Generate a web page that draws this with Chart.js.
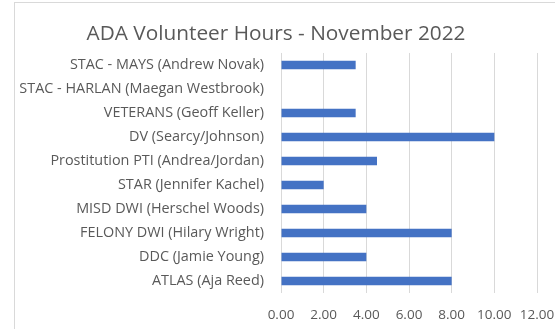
<!DOCTYPE html>
<html>
<head>
<meta charset="utf-8">
<script src="https://cdn.jsdelivr.net/npm/chart.js@4/dist/chart.umd.min.js"></script>
<style>
    html, body { margin: 0; padding: 0; background: #fff; overflow: hidden; }
    #frame {
        position: absolute;
        left: 14px;
        top: 2px;
        width: 580px;
        height: 340px;
        border: 1px solid #d9d9d9;
        background: #fff;
    }
</style>
</head>
<body>
<div id="frame"><canvas id="hoursChart" width="580" height="340"></canvas></div>

<script>
// Volunteer hours per program, listed top to bottom
const programs = [
    "STAC - MAYS (Andrew Novak)",
    "STAC - HARLAN (Maegan Westbrook)",
    "VETERANS (Geoff Keller)",
    "DV (Searcy/Johnson)",
    "Prostitution PTI (Andrea/Jordan)",
    "STAR (Jennifer Kachel)",
    "MISD DWI (Herschel Woods)",
    "FELONY DWI (Hilary Wright)",
    "DDC (Jamie Young)",
    "ATLAS (Aja Reed)"
];
const hours = [3.5, 0, 3.5, 10, 4.5, 2, 4, 8, 4, 8];
const hourTicks = [0, 2, 4, 6, 8, 10, 12];

const textColor = "#595959";
const fontFamily = "'Open Sans', sans-serif";

const ctx = document.getElementById("hoursChart").getContext("2d");

new Chart(ctx, {
    type: "bar",
    data: {
        labels: programs,
        datasets: [{
            label: "Hours",
            data: hours,
            backgroundColor: "#4472C4",
            categoryPercentage: 1,
            barPercentage: 0.35
        }]
    },
    options: {
        indexAxis: "y",
        responsive: false,
        animation: false,
        layout: { padding: { left: 0, right: 58, top: 19, bottom: 0 } },
        plugins: {
            legend: { display: false },
            tooltip: { enabled: false },
            title: {
                display: true,
                text: "ADA Volunteer Hours - November 2022",
                color: textColor,
                font: { family: fontFamily, size: 20.8, weight: "normal" },
                padding: { top: 0, bottom: 6 }
            }
        },
        scales: {
            x: {
                min: 0,
                max: 12,
                afterBuildTicks: axis => {
                    axis.ticks = hourTicks.map(v => ({ value: v }));
                },
                afterFit: axis => { axis.height = 50; },
                ticks: {
                    color: textColor,
                    font: { family: fontFamily, size: 13.5 },
                    padding: 14,
                    maxRotation: 0,
                    callback: v => v.toFixed(2)
                },
                grid: { color: "#d9d9d9", drawTicks: false },
                border: { display: false }
            },
            y: {
                afterFit: axis => { axis.width = 266; },
                ticks: {
                    color: textColor,
                    font: { family: fontFamily, size: 14.4 },
                    padding: 9
                },
                grid: { display: false },
                border: { display: false }
            }
        }
    }
});
</script>
</body>
</html>
